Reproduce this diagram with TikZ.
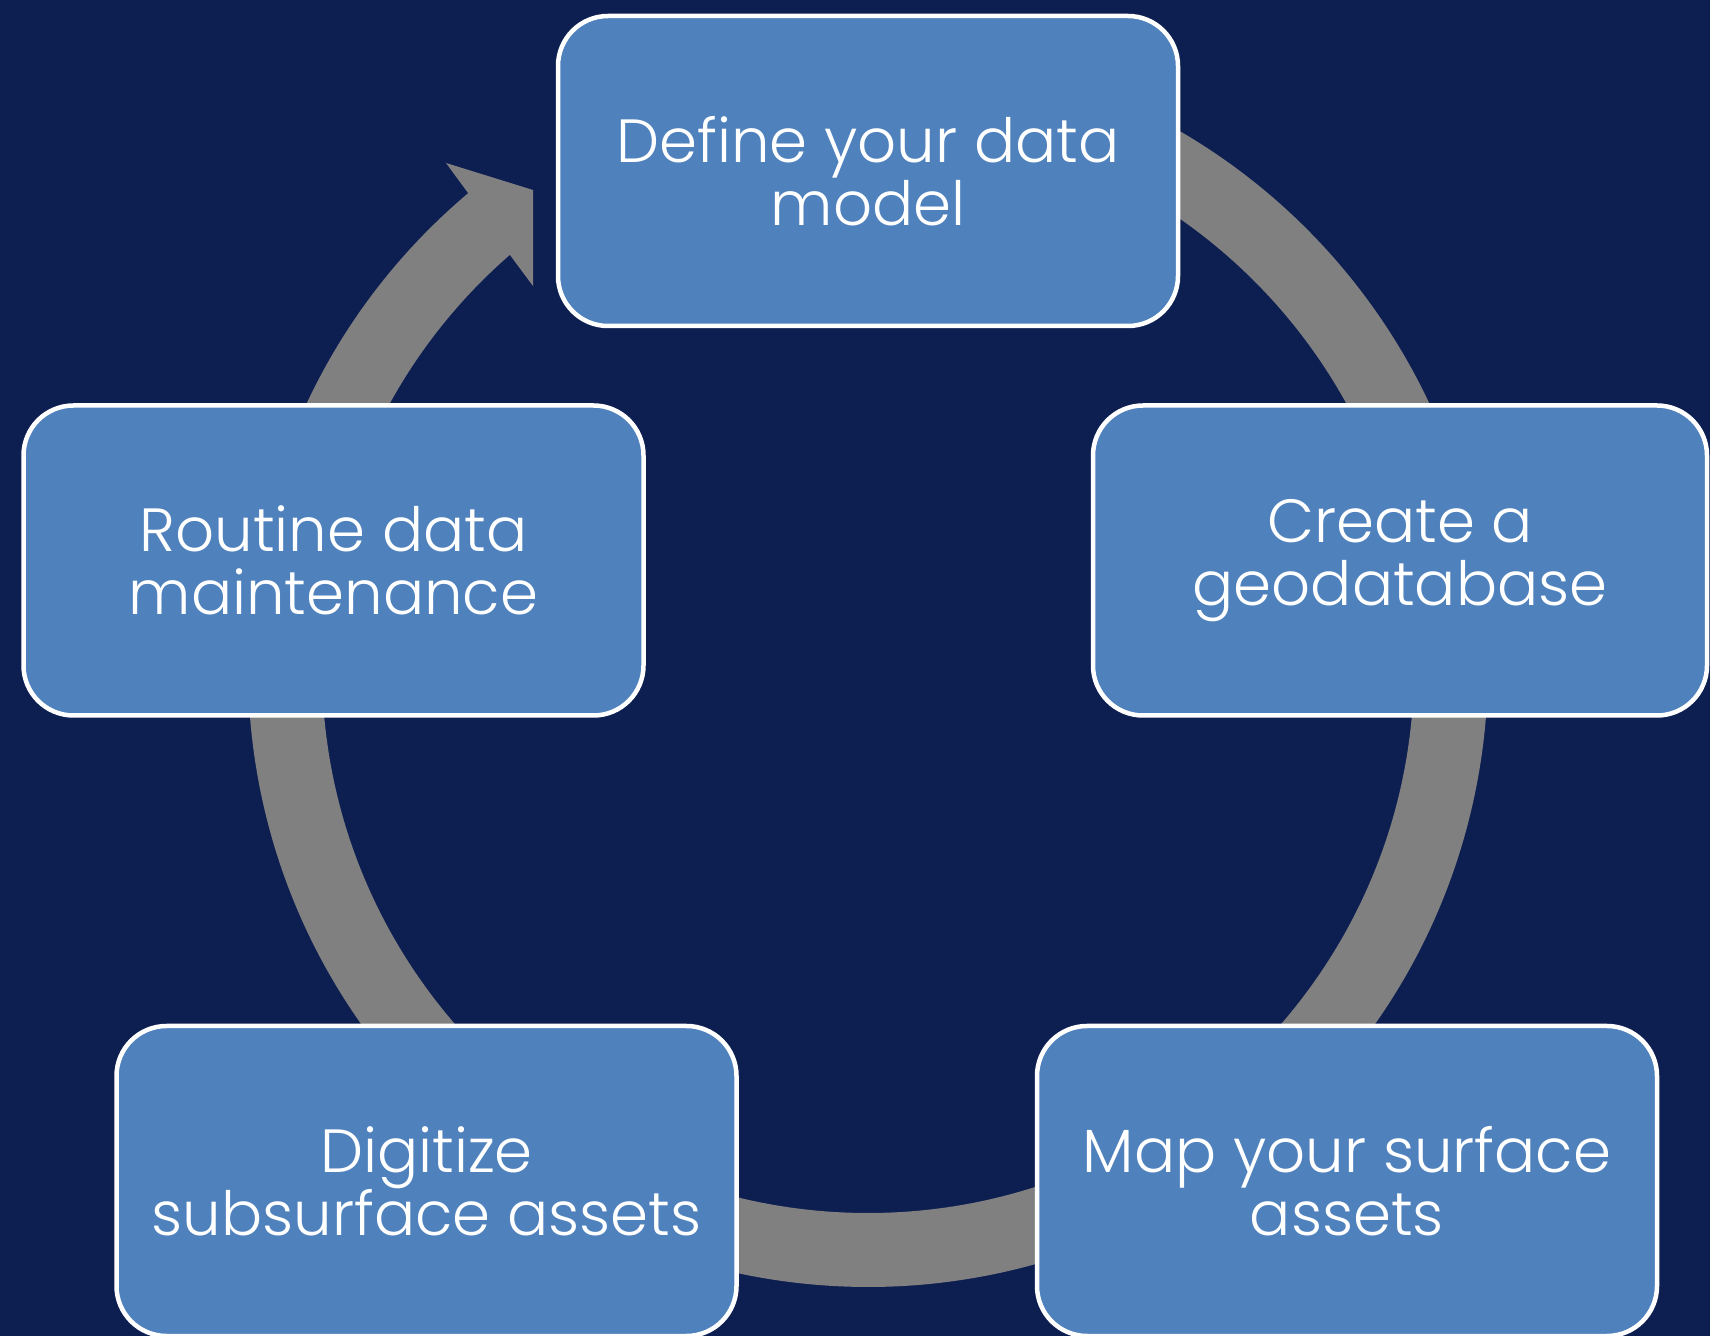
\documentclass[tikz,border=0pt]{standalone}
\usepackage{fontspec}
\setmainfont{Poppins Light}
\definecolor{bgnavy}{RGB}{13,30,81}
\definecolor{boxblue}{RGB}{79,129,189}
\definecolor{ringgray}{RGB}{128,128,128}
\begin{document}
\begin{tikzpicture}[x=1pt,y=1pt,
  stagebox/.style={draw=white, line width=4.5pt, fill=boxblue, rounded corners=50pt,
    minimum width=620pt, minimum height=310pt, inner sep=0pt, align=center,
    text=white, font=\fontsize{61}{63}\selectfont},
  ringfill/.style={fill=ringgray}]
\fill[bgnavy] (0,0) rectangle (1710,1336);
\useasboundingbox (0,0) rectangle (1710,1336);
\coordinate (C) at (868,669);
\coordinate (A1) at (446,1173);
\coordinate (T1) at (533,1146);
\coordinate (T2) at (533,1050);
% ring with arrowhead
\fill[ringfill] ([shift={(868,669)}]130.16:620) arc[start angle=130.16, end angle=450, radius=620]
  -- ++(0,-74) arc[start angle=450, end angle=130.99, radius=546]
  -- (T2) -- (T1) -- (A1) -- cycle;
% boxes
\node[stagebox] (define) at (868,1165) {Define your data\\model};
\node[stagebox, minimum width=614pt] (create) at (1400,775.5) {Create a\\geodatabase};
\node[stagebox] (map) at (1347,155) {Map your surface\\assets};
\node[stagebox] (digitize) at (426.5,155) {Digitize\\subsurface assets};
\node[stagebox] (routine) at (333.5,775.5) {Routine data\\maintenance};
\end{tikzpicture}
\end{document}
